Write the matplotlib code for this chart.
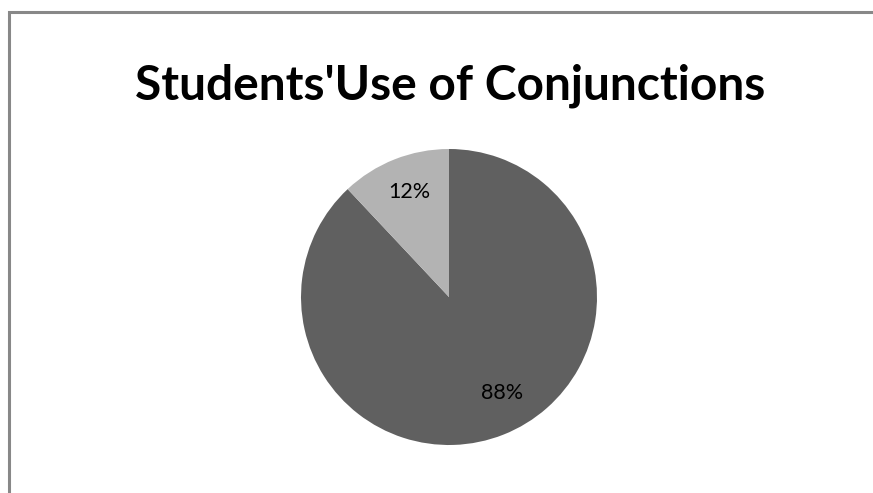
import matplotlib.pyplot as plt
from matplotlib.patches import Rectangle

labels = ['Correct', 'Incorrect']
shares = [88, 12]
colors = ['#606060', '#b3b3b3']
title = "Students'Use of Conjunctions"

fig = plt.figure(figsize=(8.73, 4.93), dpi=100)
fig.patch.set_facecolor('white')

# chart frame (cropped at right/bottom in the original)
fig.patches.append(Rectangle((9.0 / 873, -0.05), 1.1, 1.05 - 12.0 / 493,
                             transform=fig.transFigure, fill=False,
                             edgecolor='#888888', linewidth=2.2))

fig.text(450 / 873, 1 - 86 / 493, title, ha='center', va='center',
         fontsize=34.5, fontweight='bold', family='Lato')

# pie: center (449, 297), radius ~148 px
ax = fig.add_axes([(449 - 148) / 873, 1 - (297 + 148) / 493, 296 / 873, 296 / 493])
wedges, texts, autotexts = ax.pie(shares, colors=colors, startangle=90,
                                  counterclock=False, autopct='%d%%',
                                  pctdistance=0.74,
                                  textprops=dict(fontsize=15.5, family='Lato',
                                                 color='black'))
autotexts[0].set_position((0.36, -0.65))
autotexts[1].set_position((-0.27, 0.71))
ax.set_aspect('equal')
ax.set_xlim(-1, 1)
ax.set_ylim(-1, 1)

fig.savefig('out.png', dpi=100)
